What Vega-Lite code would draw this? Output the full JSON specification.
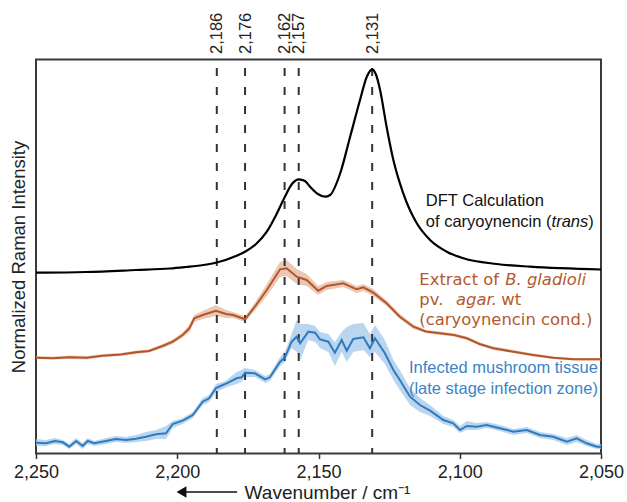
{
  "$schema": "https://vega.github.io/schema/vega-lite/v6.json",
  "width": 565,
  "height": 394,
  "autosize": {"type": "none"},
  "padding": {"left": 36, "top": 59.5, "right": 26, "bottom": 48.5},
  "config": {"view": {"stroke": "#3a3a3a", "strokeWidth": 2}, "font": "Liberation Sans", "background": "white"},
  "datasets": {
    "dft": [
      {"w": 2250, "v": 179.3}, {"w": 2232.3, "v": 180}, {"w": 2214.6, "v": 182}, {"w": 2202.6, "v": 183.5},
      {"w": 2196.9, "v": 185}, {"w": 2191.9, "v": 186.5}, {"w": 2186, "v": 189.5}, {"w": 2179.2, "v": 196},
      {"w": 2176, "v": 200.3}, {"w": 2172.1, "v": 208}, {"w": 2168.3, "v": 220.3}, {"w": 2165, "v": 237},
      {"w": 2161.9, "v": 255.3}, {"w": 2159.4, "v": 268}, {"w": 2156.9, "v": 272.7}, {"w": 2154.8, "v": 271},
      {"w": 2153, "v": 265.3}, {"w": 2150.2, "v": 258}, {"w": 2147.7, "v": 255.3}, {"w": 2145.9, "v": 257},
      {"w": 2142.4, "v": 278}, {"w": 2138.8, "v": 315.3}, {"w": 2135.3, "v": 352}, {"w": 2132.9, "v": 375.3},
      {"w": 2131, "v": 382.7}, {"w": 2129.6, "v": 377}, {"w": 2128.2, "v": 362}, {"w": 2125.9, "v": 325.3},
      {"w": 2123.5, "v": 292}, {"w": 2120, "v": 258.7}, {"w": 2115.2, "v": 228.7}, {"w": 2110.5, "v": 212},
      {"w": 2104.6, "v": 200.3}, {"w": 2098.7, "v": 193.7}, {"w": 2086.9, "v": 188}, {"w": 2075.1, "v": 185.3},
      {"w": 2050, "v": 182.5}
    ],
    "extract": [
      {"w": 2250, "v": 94.3, "lo": 93, "hi": 96}, {"w": 2244, "v": 93.8, "lo": 92.5, "hi": 95.5},
      {"w": 2238.3, "v": 94.7, "lo": 93, "hi": 96.5}, {"w": 2232, "v": 94.2, "lo": 92.5, "hi": 96},
      {"w": 2226.4, "v": 96.3, "lo": 95, "hi": 98}, {"w": 2220, "v": 97.5, "lo": 96, "hi": 99},
      {"w": 2214.6, "v": 99.7, "lo": 98, "hi": 101.5}, {"w": 2210, "v": 101, "lo": 99.5, "hi": 102.5},
      {"w": 2205.2, "v": 106, "lo": 104, "hi": 108}, {"w": 2201.6, "v": 110.3, "lo": 108, "hi": 112.5},
      {"w": 2198.1, "v": 117, "lo": 114.5, "hi": 119.5}, {"w": 2195.7, "v": 123.7, "lo": 120, "hi": 127},
      {"w": 2194, "v": 133.7, "lo": 130, "hi": 137}, {"w": 2191, "v": 137, "lo": 133, "hi": 141},
      {"w": 2186.3, "v": 141.3, "lo": 136, "hi": 147}, {"w": 2182.7, "v": 138, "lo": 134, "hi": 142},
      {"w": 2180.2, "v": 137, "lo": 134, "hi": 140}, {"w": 2176, "v": 132.7, "lo": 130, "hi": 135.5},
      {"w": 2172.1, "v": 147, "lo": 143, "hi": 151}, {"w": 2168.3, "v": 162, "lo": 156, "hi": 168},
      {"w": 2163.6, "v": 182.7, "lo": 175, "hi": 190}, {"w": 2161.3, "v": 183.7, "lo": 176, "hi": 192},
      {"w": 2157.7, "v": 175.3, "lo": 168, "hi": 183}, {"w": 2154.2, "v": 172, "lo": 166, "hi": 178},
      {"w": 2150.1, "v": 161.3, "lo": 157, "hi": 166}, {"w": 2147.1, "v": 166, "lo": 162, "hi": 170},
      {"w": 2141.2, "v": 168.7, "lo": 165, "hi": 172}, {"w": 2136.5, "v": 162.7, "lo": 159, "hi": 166},
      {"w": 2134.1, "v": 164.7, "lo": 161, "hi": 168}, {"w": 2130.6, "v": 159.3, "lo": 156, "hi": 163},
      {"w": 2125.9, "v": 148.7, "lo": 146, "hi": 151.5}, {"w": 2121.2, "v": 135.3, "lo": 133, "hi": 138},
      {"w": 2116.4, "v": 125.3, "lo": 123, "hi": 127.5}, {"w": 2112, "v": 120.5, "lo": 119, "hi": 122},
      {"w": 2107, "v": 118.7, "lo": 117, "hi": 120.5}, {"w": 2102, "v": 117, "lo": 115.5, "hi": 118.5},
      {"w": 2097.5, "v": 113.7, "lo": 112, "hi": 115.5}, {"w": 2093, "v": 108, "lo": 106.5, "hi": 109.5},
      {"w": 2088.1, "v": 103.7, "lo": 102, "hi": 105.5}, {"w": 2081, "v": 100.3, "lo": 99, "hi": 102},
      {"w": 2074, "v": 97, "lo": 95.5, "hi": 98.5}, {"w": 2066.9, "v": 94.3, "lo": 93, "hi": 95.5},
      {"w": 2059.8, "v": 92.7, "lo": 91.5, "hi": 94}, {"w": 2050, "v": 92.7, "lo": 91.5, "hi": 94}
    ],
    "tissue": [
      {"w": 2250, "v": 9.3, "lo": 6, "hi": 13}, {"w": 2246.5, "v": 8.7, "lo": 6, "hi": 12},
      {"w": 2243.3, "v": 11, "lo": 8, "hi": 14}, {"w": 2240.5, "v": 9.7, "lo": 7, "hi": 12},
      {"w": 2238.2, "v": 5.3, "lo": 3, "hi": 8}, {"w": 2235.8, "v": 11, "lo": 8, "hi": 14},
      {"w": 2233.5, "v": 6, "lo": 3, "hi": 9}, {"w": 2231.7, "v": 11, "lo": 8, "hi": 14},
      {"w": 2229.4, "v": 8.7, "lo": 6, "hi": 11}, {"w": 2225.2, "v": 11, "lo": 8, "hi": 14},
      {"w": 2221.7, "v": 13, "lo": 10, "hi": 16}, {"w": 2218.1, "v": 12, "lo": 9, "hi": 15},
      {"w": 2214.6, "v": 13.3, "lo": 10, "hi": 17}, {"w": 2211.1, "v": 15.3, "lo": 11, "hi": 20},
      {"w": 2207.5, "v": 17.7, "lo": 13, "hi": 22}, {"w": 2204, "v": 18.7, "lo": 13, "hi": 26},
      {"w": 2201.6, "v": 28, "lo": 24, "hi": 31}, {"w": 2198.1, "v": 31.3, "lo": 28, "hi": 34},
      {"w": 2194.5, "v": 37, "lo": 34, "hi": 40}, {"w": 2191, "v": 50.3, "lo": 47, "hi": 54},
      {"w": 2188.7, "v": 53.7, "lo": 50, "hi": 57}, {"w": 2186.3, "v": 64, "lo": 60, "hi": 68},
      {"w": 2183.9, "v": 67, "lo": 63, "hi": 70}, {"w": 2182.5, "v": 68.7, "lo": 65, "hi": 72},
      {"w": 2179, "v": 73.7, "lo": 68, "hi": 80}, {"w": 2177.2, "v": 74.7, "lo": 70, "hi": 82},
      {"w": 2176, "v": 79.3, "lo": 75, "hi": 84}, {"w": 2172.5, "v": 78.7, "lo": 75, "hi": 82},
      {"w": 2168.9, "v": 72.7, "lo": 69, "hi": 76}, {"w": 2167.2, "v": 74.7, "lo": 71, "hi": 78},
      {"w": 2163.6, "v": 90.3, "lo": 86, "hi": 95}, {"w": 2161.9, "v": 94.7, "lo": 90, "hi": 100},
      {"w": 2159.5, "v": 110.3, "lo": 104, "hi": 118}, {"w": 2157.7, "v": 115.3, "lo": 100, "hi": 132},
      {"w": 2156.5, "v": 108.7, "lo": 92, "hi": 128}, {"w": 2153.6, "v": 120.3, "lo": 112, "hi": 128},
      {"w": 2151.2, "v": 119.3, "lo": 110, "hi": 126}, {"w": 2149.5, "v": 112.7, "lo": 104, "hi": 120},
      {"w": 2146.5, "v": 110.3, "lo": 100, "hi": 118}, {"w": 2144.2, "v": 99.3, "lo": 86, "hi": 110},
      {"w": 2141.8, "v": 112, "lo": 100, "hi": 120}, {"w": 2140, "v": 101.3, "lo": 90, "hi": 125},
      {"w": 2137.7, "v": 113, "lo": 100, "hi": 128}, {"w": 2134.1, "v": 114.7, "lo": 102, "hi": 129},
      {"w": 2131.8, "v": 103.7, "lo": 95, "hi": 118}, {"w": 2130, "v": 113.7, "lo": 100, "hi": 127},
      {"w": 2126.5, "v": 98.7, "lo": 88, "hi": 112}, {"w": 2123.5, "v": 82, "lo": 72, "hi": 92},
      {"w": 2121.2, "v": 72, "lo": 62, "hi": 82}, {"w": 2117.6, "v": 55.3, "lo": 47, "hi": 64},
      {"w": 2114.1, "v": 47, "lo": 40, "hi": 54}, {"w": 2110.5, "v": 41.3, "lo": 36, "hi": 47},
      {"w": 2105.8, "v": 32, "lo": 28, "hi": 36}, {"w": 2102.3, "v": 28.7, "lo": 25, "hi": 32},
      {"w": 2099.9, "v": 22, "lo": 19, "hi": 26}, {"w": 2097.5, "v": 26, "lo": 22, "hi": 31},
      {"w": 2094, "v": 25.3, "lo": 22, "hi": 29}, {"w": 2090.5, "v": 27, "lo": 24, "hi": 30},
      {"w": 2085.8, "v": 23.7, "lo": 21, "hi": 27}, {"w": 2081, "v": 20.3, "lo": 17, "hi": 23},
      {"w": 2076.3, "v": 22, "lo": 19, "hi": 25}, {"w": 2071.6, "v": 17, "lo": 14, "hi": 20},
      {"w": 2066.9, "v": 15.3, "lo": 12, "hi": 18}, {"w": 2062.1, "v": 10.3, "lo": 7, "hi": 14},
      {"w": 2058.6, "v": 13.7, "lo": 10, "hi": 17}, {"w": 2055.1, "v": 8.7, "lo": 6, "hi": 12},
      {"w": 2051.5, "v": 5.3, "lo": 3, "hi": 8}, {"w": 2050, "v": 5.3, "lo": 3, "hi": 8}
    ],
    "peaks": [{"w": 2186}, {"w": 2176}, {"w": 2162}, {"w": 2157}, {"w": 2131}],
    "dftText": [
      {"w": 2112, "v": 251, "label": "DFT Calculation"},
      {"w": 2112, "v": 230, "label": "of caryoynencin ("},
      {"w": 2054.5, "v": 230, "label": ")"}
    ],
    "dftItalic": [{"w": 2067.5, "v": 230, "label": "trans"}],
    "extText": [
      {"w": 2114.3, "v": 172, "label": "Extract of"},
      {"w": 2114.3, "v": 152, "label": "pv."},
      {"w": 2085.3, "v": 152, "label": "wt"},
      {"w": 2114.3, "v": 132, "label": "(caryoynencin cond.)"}
    ],
    "extItalic": [
      {"w": 2083.9, "v": 172, "label": "B. gladioli"},
      {"w": 2101.3, "v": 152, "label": "agar."}
    ],
    "tisText": [
      {"w": 2051.1, "v": 83.7, "label": "Infected mushroom tissue"},
      {"w": 2051.1, "v": 62.7, "label": "(late stage infection zone)"}
    ],
    "arrow": [{"w": 2199, "w2": 2178.8, "v": -40}],
    "arrowHead": [{"w": 2198.5, "v": -40}]
  },
  "resolve": {"axis": {"x": "independent", "y": "independent"}},
  "layer": [
    {
      "data": {"name": "extract"},
      "mark": {"type": "area", "color": "#e2b79c", "opacity": 0.75},
      "encoding": {
        "x": {"field": "w", "type": "quantitative", "scale": {"domain": [2050, 2250], "reverse": true, "nice": false, "zero": false}, "axis": null},
        "y": {"field": "lo", "type": "quantitative", "scale": {"domain": [-1.5, 392.5], "nice": false, "zero": false}, "axis": null},
        "y2": {"field": "hi"}
      }
    },
    {
      "data": {"name": "tissue"},
      "mark": {"type": "area", "color": "#a9cceb", "opacity": 0.8},
      "encoding": {
        "x": {"field": "w", "type": "quantitative", "scale": {"domain": [2050, 2250], "reverse": true, "nice": false, "zero": false}, "axis": null},
        "y": {"field": "lo", "type": "quantitative", "scale": {"domain": [-1.5, 392.5], "nice": false, "zero": false}, "axis": null},
        "y2": {"field": "hi"}
      }
    },
    {
      "data": {"name": "peaks"},
      "mark": {"type": "rule", "color": "#333333", "strokeWidth": 2, "strokeDash": [8, 11], "strokeDashOffset": 10.5},
      "encoding": {
        "x": {"field": "w", "type": "quantitative", "scale": {"domain": [2050, 2250], "reverse": true, "nice": false, "zero": false},
          "axis": {"orient": "top", "values": [2186, 2176, 2162, 2157, 2131], "format": ",d", "labelAngle": -90, "labelAlign": "left", "labelBaseline": "middle",
            "labelFontSize": 16.5, "labelColor": "#222222", "labelPadding": 6, "ticks": false, "tickSize": 0, "domain": false, "grid": false, "title": null, "labelOverlap": false, "labelFlush": false}}
      }
    },
    {
      "data": {"name": "dft"},
      "mark": {"type": "line", "color": "#000000", "strokeWidth": 2.2, "interpolate": "monotone"},
      "encoding": {
        "x": {"field": "w", "type": "quantitative", "scale": {"domain": [2050, 2250], "reverse": true, "nice": false, "zero": false},
          "axis": {"orient": "bottom", "values": [2250, 2200, 2150, 2100, 2050], "format": ",d", "labelFontSize": 18, "labelColor": "#222222", "labelPadding": 5,
            "tickSize": 5, "tickWidth": 1.5, "tickColor": "#333333", "domain": false, "grid": false, "labelFlush": false,
            "title": "Wavenumber / cm⁻¹", "titleFontSize": 19, "titleFontWeight": "normal", "titleColor": "#222222", "titleY": 38.5, "titleBaseline": "middle", "titleX": 291}},
        "y": {"field": "v", "type": "quantitative", "scale": {"domain": [-1.5, 392.5], "nice": false, "zero": false},
          "axis": {"labels": false, "ticks": false, "domain": false, "grid": false, "title": "Normalized Raman Intensity", "titleFontSize": 18.5, "titleFontWeight": "normal",
            "titleColor": "#222222", "titleX": -18, "titleY": 197, "titleAngle": -90, "titleAlign": "center", "titleBaseline": "middle"}}
      }
    },
    {
      "data": {"name": "extract"},
      "mark": {"type": "line", "color": "#b4552a", "strokeWidth": 2},
      "encoding": {
        "x": {"field": "w", "type": "quantitative", "scale": {"domain": [2050, 2250], "reverse": true, "nice": false, "zero": false}, "axis": null},
        "y": {"field": "v", "type": "quantitative", "scale": {"domain": [-1.5, 392.5], "nice": false, "zero": false}, "axis": null}
      }
    },
    {
      "data": {"name": "tissue"},
      "mark": {"type": "line", "color": "#2f7bc0", "strokeWidth": 2},
      "encoding": {
        "x": {"field": "w", "type": "quantitative", "scale": {"domain": [2050, 2250], "reverse": true, "nice": false, "zero": false}, "axis": null},
        "y": {"field": "v", "type": "quantitative", "scale": {"domain": [-1.5, 392.5], "nice": false, "zero": false}, "axis": null}
      }
    },
    {
      "data": {"name": "dftText"},
      "mark": {"type": "text", "align": "left", "baseline": "middle", "font": "Liberation Sans", "fontSize": 16.5, "color": "#111111"},
      "encoding": {
        "x": {"field": "w", "type": "quantitative", "scale": {"domain": [2050, 2250], "reverse": true, "nice": false, "zero": false}, "axis": null},
        "y": {"field": "v", "type": "quantitative", "scale": {"domain": [-1.5, 392.5], "nice": false, "zero": false}, "axis": null},
        "text": {"field": "label"}
      }
    },
    {
      "data": {"name": "dftItalic"},
      "mark": {"type": "text", "align": "left", "baseline": "middle", "font": "Liberation Sans", "fontStyle": "italic", "fontSize": 16.5, "color": "#111111"},
      "encoding": {
        "x": {"field": "w", "type": "quantitative", "scale": {"domain": [2050, 2250], "reverse": true, "nice": false, "zero": false}, "axis": null},
        "y": {"field": "v", "type": "quantitative", "scale": {"domain": [-1.5, 392.5], "nice": false, "zero": false}, "axis": null},
        "text": {"field": "label"}
      }
    },
    {
      "data": {"name": "extText"},
      "mark": {"type": "text", "align": "left", "baseline": "middle", "font": "DejaVu Sans", "fontSize": 16.4, "color": "#b4592d"},
      "encoding": {
        "x": {"field": "w", "type": "quantitative", "scale": {"domain": [2050, 2250], "reverse": true, "nice": false, "zero": false}, "axis": null},
        "y": {"field": "v", "type": "quantitative", "scale": {"domain": [-1.5, 392.5], "nice": false, "zero": false}, "axis": null},
        "text": {"field": "label"}
      }
    },
    {
      "data": {"name": "extItalic"},
      "mark": {"type": "text", "align": "left", "baseline": "middle", "font": "DejaVu Sans", "fontStyle": "italic", "fontSize": 16.4, "color": "#b4592d"},
      "encoding": {
        "x": {"field": "w", "type": "quantitative", "scale": {"domain": [2050, 2250], "reverse": true, "nice": false, "zero": false}, "axis": null},
        "y": {"field": "v", "type": "quantitative", "scale": {"domain": [-1.5, 392.5], "nice": false, "zero": false}, "axis": null},
        "text": {"field": "label"}
      }
    },
    {
      "data": {"name": "tisText"},
      "mark": {"type": "text", "align": "right", "baseline": "middle", "font": "Liberation Sans", "fontSize": 16.5, "color": "#3a84c6"},
      "encoding": {
        "x": {"field": "w", "type": "quantitative", "scale": {"domain": [2050, 2250], "reverse": true, "nice": false, "zero": false}, "axis": null},
        "y": {"field": "v", "type": "quantitative", "scale": {"domain": [-1.5, 392.5], "nice": false, "zero": false}, "axis": null},
        "text": {"field": "label"}
      }
    },
    {
      "data": {"name": "arrow"},
      "mark": {"type": "rule", "color": "#111111", "strokeWidth": 1.5},
      "encoding": {
        "x": {"field": "w", "type": "quantitative", "scale": {"domain": [2050, 2250], "reverse": true, "nice": false, "zero": false}, "axis": null},
        "x2": {"field": "w2"},
        "y": {"field": "v", "type": "quantitative", "scale": {"domain": [-1.5, 392.5], "nice": false, "zero": false}, "axis": null}
      }
    },
    {
      "data": {"name": "arrowHead"},
      "mark": {"type": "point", "shape": "triangle-left", "filled": true, "color": "#111111", "size": 130, "opacity": 1},
      "encoding": {
        "x": {"field": "w", "type": "quantitative", "scale": {"domain": [2050, 2250], "reverse": true, "nice": false, "zero": false}, "axis": null},
        "y": {"field": "v", "type": "quantitative", "scale": {"domain": [-1.5, 392.5], "nice": false, "zero": false}, "axis": null}
      }
    }
  ]
}
